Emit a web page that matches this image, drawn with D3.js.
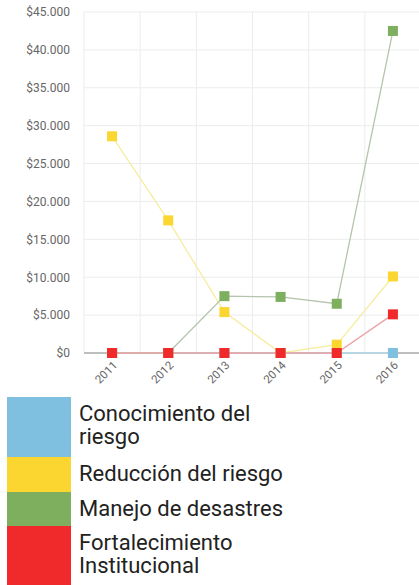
<!DOCTYPE html>
<html><head><meta charset="utf-8">
<script src="https://cdn.jsdelivr.net/npm/d3@7"></script>
<style>
html,body{margin:0;padding:0;background:#fff;overflow:hidden;}
svg{display:block;}
</style></head>
<body>
<script>
const years = ["2011","2012","2013","2014","2015","2016"];
const seriesNames = ["Conocimiento del riesgo","Reducción del riesgo","Manejo de desastres","Fortalecimiento Institucional"];
const conocimiento = [0,0,0,0,0,0];
const reduccion = [28600,17500,5400,0,1100,10100];
const manejo = [0,0,7500,7400,6500,42500];
const fortalecimiento = [0,0,0,0,0,5100];
const yTicks = [0,5000,10000,15000,20000,25000,30000,35000,40000,45000];
const colors = ["#7fc0e0","#fbd530","#7daf5f","#f02a2a"];
const lineColors = ["#b9dcee","#f7eca0","#b5c4ac","#eaa3a3"];
const legendLines = [["Conocimiento del","riesgo"],["Reducción del riesgo"],["Manejo de desastres"],["Fortalecimiento","Institucional"]];

const W=419,H=585;
const svg=d3.select("body").append("svg").attr("width",W).attr("height",H);
const x=d3.scaleBand().domain(years).range([84,421]);
const y=d3.scaleLinear().domain([0,45000]).range([353,12]);

// grid
svg.append("g").selectAll("line").data(yTicks).join("line")
  .attr("x1",84).attr("x2",W).attr("y1",d=>y(d)).attr("y2",d=>y(d))
  .attr("stroke","#ececec").attr("stroke-width",1);
svg.append("g").selectAll("line").data(years).join("line")
  .attr("x1",d=>x(d)).attr("x2",d=>x(d)).attr("y1",y(45000)).attr("y2",y(0))
  .attr("stroke","#ececec").attr("stroke-width",1);

// y axis labels
const fmt=d=>"$"+d3.format(",")(d).replace(/,/g,".");
const ya=svg.append("g").attr("transform","translate(70,0)")
  .call(d3.axisLeft(y).tickValues(yTicks).tickSize(0).tickPadding(0).tickFormat(fmt));
ya.select(".domain").remove();
ya.selectAll("text").attr("font-family","Roboto, sans-serif").attr("font-size","12px").attr("fill","#666");

// baseline
svg.append("line").attr("x1",84).attr("x2",W).attr("y1",y(0)).attr("y2",y(0))
  .attr("stroke","#888").attr("stroke-width",1.2);

// x axis labels
const xa=svg.append("g").attr("transform",`translate(0,${y(0)})`)
  .call(d3.axisBottom(x).tickSize(0).tickPadding(0));
xa.select(".domain").remove();
xa.selectAll("text").attr("font-family","Roboto, sans-serif").attr("font-size","11.5px").attr("fill","#666")
  .attr("text-anchor","end").attr("dy",null).attr("y",0)
  .attr("transform","translate(6,13) rotate(-45)");

// series
const data=[conocimiento,reduccion,manejo,fortalecimiento];
const line=d3.line().x((d,i)=>x(years[i])+x.bandwidth()/2).y(d=>y(d));
data.forEach((s,k)=>{
  svg.append("path").datum(s).attr("d",line).attr("fill","none")
    .attr("stroke",lineColors[k]).attr("stroke-width",1.3);
});
data.forEach((s,k)=>{
  svg.append("g").selectAll("rect").data(s).join("rect")
    .attr("x",(d,i)=>x(years[i])+x.bandwidth()/2-5).attr("y",d=>y(d)-5)
    .attr("width",10).attr("height",10).attr("fill",colors[k]);
});

// legend
const rows=[[397,457],[457,492],[492,526],[526,585]];
const lg=svg.append("g");
seriesNames.forEach((n,k)=>{
  lg.append("rect").attr("x",7).attr("y",rows[k][0]).attr("width",64)
    .attr("height",rows[k][1]-rows[k][0]).attr("fill",colors[k]);
  const t=lg.append("text").attr("x",79).attr("y",rows[k][0]+24)
    .attr("font-family","Roboto, sans-serif").attr("font-size","22px").attr("fill","#222");
  legendLines[k].forEach((l,j)=>t.append("tspan").attr("x",79).attr("dy",j?23:0).text(l));
});
</script>
</body></html>
